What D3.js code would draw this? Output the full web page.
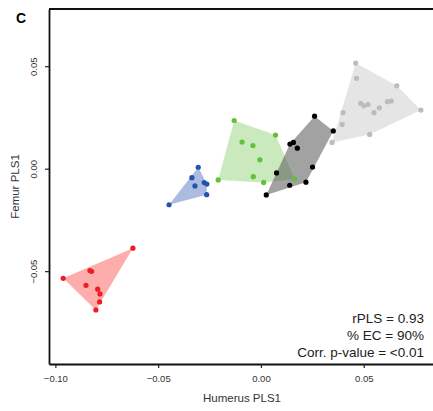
<!DOCTYPE html>
<html>
<head>
<meta charset="utf-8">
<script src="https://cdn.jsdelivr.net/npm/d3@7"></script>
<style>
  body { margin: 0; background: #fff; }
  svg text { font-family: "Liberation Sans", Arial, sans-serif; }
</style>
</head>
<body>
<div id="chart"></div>
<script>
// groups of specimens: [humerus PLS1, femur PLS1]
const groupNames = ['red', 'blue', 'green', 'black', 'gray'];

const redPts = [[-0.0623,-0.0388],[-0.0962,-0.0535],[-0.0832,-0.0497],[-0.0824,-0.0501],[-0.0851,-0.0569],
  [-0.0794,-0.0588],[-0.0783,-0.0611],[-0.0785,-0.0650],[-0.0803,-0.0689]];
const bluePts = [[-0.0305,0.0007],[-0.0336,-0.0044],[-0.0321,-0.0084],[-0.0276,-0.0068],[-0.0263,-0.0075],
  [-0.0264,-0.0127],[-0.0447,-0.0176]];
const greenPts = [[-0.0130,0.0235],[0.0071,0.0164],[-0.0092,0.0130],[-0.0039,0.0113],[-0.0005,0.0043],
  [-0.0037,-0.0039],[0.0013,-0.0067],[0.0164,-0.0050],[-0.0208,-0.0055]];
const blackPts = [[0.0261,0.0256],[0.0352,0.0184],[0.0141,0.0120],[0.0158,0.0128],[0.0177,0.0100],
  [0.0251,0.0008],[0.0076,-0.0021],[0.0140,-0.0081],[0.0219,-0.0066],[0.0026,-0.0128]];
const grayPts = [[0.0461,0.0515],[0.0465,0.0441],[0.0661,0.0404],[0.0778,0.0286],[0.0485,0.0319],
  [0.0501,0.0307],[0.0521,0.0313],[0.0550,0.0273],[0.0576,0.0297],[0.0615,0.0327],[0.0634,0.0330],
  [0.0399,0.0273],[0.0395,0.0216],[0.0529,0.0167],[0.0346,0.0128]];

const xTicks = [-0.10, -0.05, 0.00, 0.05];
const yTicks = [-0.05, 0.00, 0.05];
const statLines = ['rPLS = 0.93', '% EC = 90%', 'Corr. p-value = <0.01'];

const groups = [
  { name: 'red', pts: redPts, dot: '#ee1c24', hull: '#ff8080', op: 0.65 },
  { name: 'blue', pts: bluePts, dot: '#2453b0', hull: '#7f98cf', op: 0.65 },
  { name: 'green', pts: greenPts, dot: '#62c03a', hull: '#9ed888', op: 0.55 },
  { name: 'black', pts: blackPts, dot: '#000000', hull: '#555555', op: 0.55 },
  { name: 'gray', pts: grayPts, dot: '#bcbcbc', hull: '#d4d4d4', op: 0.6 }
];

const width = 433, height = 411;
const mLeft = 49, mTop = 9, mBottom = 364, mRight = 433;

const svg = d3.select('#chart').append('svg')
  .attr('width', width)
  .attr('height', height);

const x = d3.scaleLinear().domain([-0.1031, 0.0837]).range([mLeft, mRight]);
const y = d3.scaleLinear().domain([-0.0953, 0.0779]).range([mBottom, mTop]);

// hulls then dots
groups.forEach(g => {
  const hull = d3.polygonHull(g.pts.map(p => [x(p[0]), y(p[1])]));
  svg.append('path')
    .attr('d', 'M' + hull.join('L') + 'Z')
    .attr('fill', g.hull)
    .attr('fill-opacity', g.op)
    .attr('stroke', 'none');
});

groups.forEach(g => {
  svg.selectAll('circle.' + g.name)
    .data(g.pts)
    .enter()
    .append('circle')
    .attr('class', g.name)
    .attr('cx', d => x(d[0]))
    .attr('cy', d => y(d[1]))
    .attr('r', 2.6)
    .attr('fill', g.dot);
});

const fmt = d3.format('.2f');

const xAxis = d3.axisBottom(x).tickValues(xTicks).tickFormat(fmt).tickSize(4).tickSizeOuter(0);
const yAxis = d3.axisLeft(y).tickValues(yTicks).tickFormat(fmt).tickSize(4).tickSizeOuter(0);

const gx = svg.append('g').attr('transform', `translate(0,${mBottom})`).call(xAxis);
const gy = svg.append('g').attr('transform', `translate(${mLeft},0)`).call(yAxis);

[gx, gy].forEach(g => {
  g.select('.domain').attr('stroke', '#111').attr('stroke-width', 1.8);
  g.selectAll('.tick line').attr('stroke', '#222').attr('stroke-width', 1.2);
  g.selectAll('.tick text')
    .attr('fill', '#333')
    .style('font-size', '9.5px')
    .style('font-family', '"Liberation Sans", Arial, sans-serif');
});
gx.selectAll('.tick text').attr('y', 11);
gy.selectAll('.tick text')
  .attr('x', null).attr('dy', null)
  .attr('text-anchor', 'middle')
  .attr('transform', 'translate(-12,0) rotate(-90)');

// top border
svg.append('line')
  .attr('x1', mLeft).attr('x2', mRight)
  .attr('y1', mTop).attr('y2', mTop)
  .attr('stroke', '#111').attr('stroke-width', 1.8);

svg.append('text')
  .attr('x', 16).attr('y', 23)
  .attr('font-size', 14).attr('font-weight', 'bold')
  .text('C');

svg.append('text')
  .attr('x', 242).attr('y', 402)
  .attr('text-anchor', 'middle')
  .attr('font-size', 11.5).attr('fill', '#333')
  .text('Humerus PLS1');

svg.append('text')
  .attr('transform', `translate(19,${(mTop + mBottom) / 2}) rotate(-90)`)
  .attr('text-anchor', 'middle')
  .attr('font-size', 11.5).attr('fill', '#333')
  .text('Femur PLS1');

svg.selectAll('text.stat')
  .data(statLines)
  .enter()
  .append('text')
  .attr('class', 'stat')
  .attr('x', 424)
  .attr('y', (d, i) => 323 + i * 17)
  .attr('text-anchor', 'end')
  .attr('font-size', 13.5).attr('fill', '#222')
  .text(d => d);
</script>
</body>
</html>
